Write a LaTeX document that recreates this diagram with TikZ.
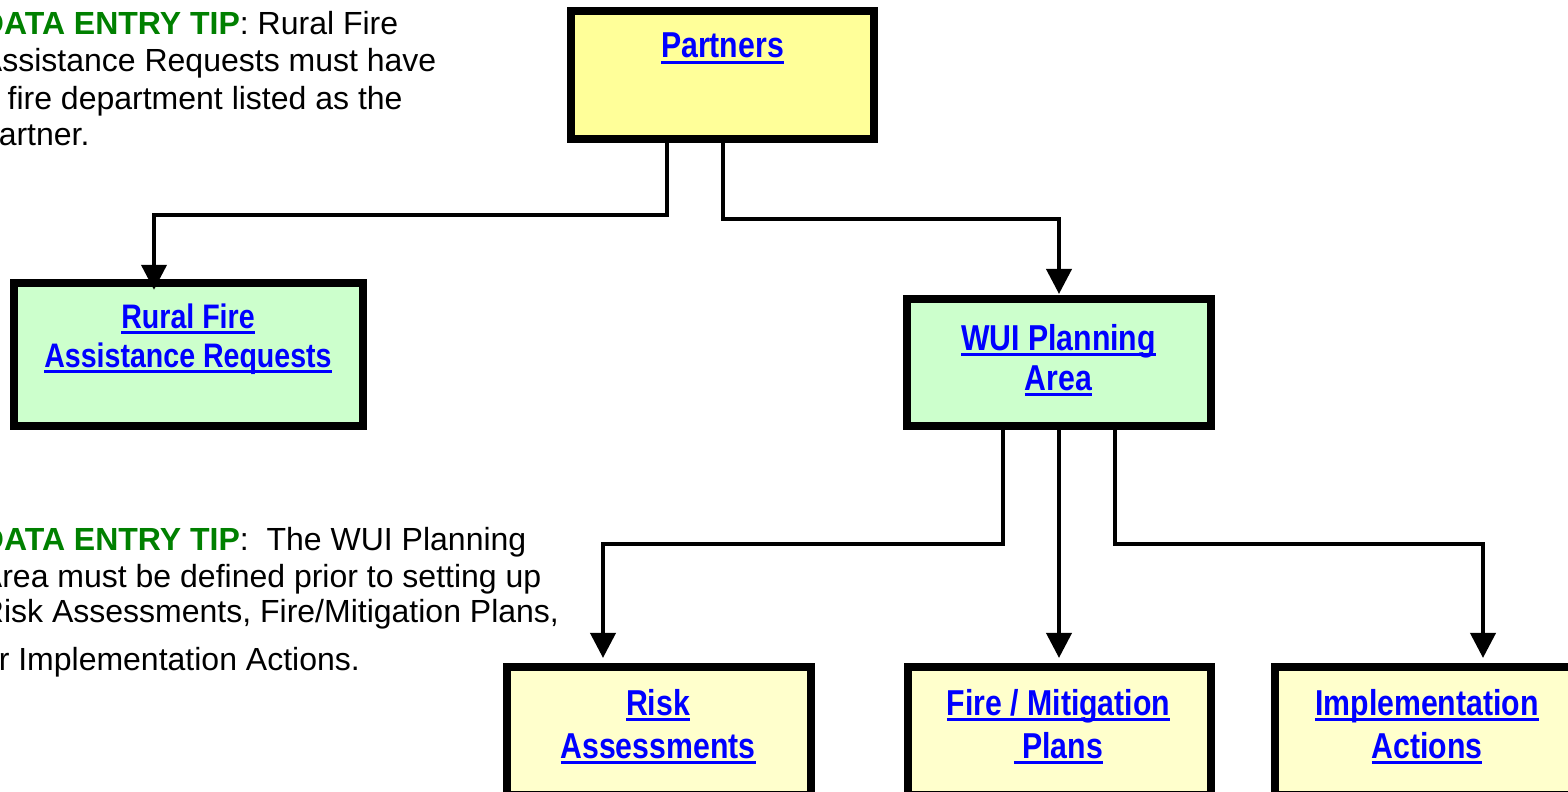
\documentclass[tikz,border=0pt]{standalone}
\usepackage{fontspec}
\setmainfont{Liberation Sans}
\newfontfamily\boxfont[FakeStretch=0.84]{Liberation Sans}
\usetikzlibrary{arrows.meta}
\definecolor{tipgreen}{HTML}{008000}
\definecolor{linkblue}{HTML}{0000FF}
\definecolor{partfill}{HTML}{FFFF99}
\definecolor{greenfill}{HTML}{CCFFCC}
\definecolor{lightfill}{HTML}{FFFFCC}
\newcommand\myul[1]{\setbox0\hbox{#1}\rlap{\color{linkblue}\rule[-4.3pt]{\wd0}{2.4pt}}\box0}
\tikzset{
  box/.style={draw=black, line width=6pt, outer sep=0pt, inner sep=0pt, rectangle},
  boxtext/.style={anchor=base, inner sep=0pt, outer sep=0pt, text=linkblue,
    font=\boxfont\bfseries\fontsize{27}{30}\selectfont},
  smallboxtext/.style={boxtext, font=\boxfont\bfseries\fontsize{25.5}{30}\selectfont},
  tiptext/.style={anchor=base west, inner sep=0pt, outer sep=0pt,
    font=\fontsize{24}{28}\selectfont},
  conn/.style={draw=black, line width=3pt, line join=miter},
  arr/.style={conn, -{Triangle[length=18.75pt, width=18.75pt]}},
}
\newcommand\tip{\textcolor{tipgreen}{\bfseries DATA ENTRY TIP}}
\begin{document}
\begin{tikzpicture}[x=0.75pt, y=-0.75pt]
\useasboundingbox (0,0) rectangle (1568,792);
\clip (0,0) rectangle (1568,792);

% boxes
\node[box, fill=partfill, minimum width=303*0.75pt, minimum height=128*0.75pt] (partners) at (722.5,75) {};
\node[box, fill=greenfill, minimum width=349*0.75pt, minimum height=143.5*0.75pt] (rural) at (188.5,354.25) {};
\node[box, fill=greenfill, minimum width=304*0.75pt, minimum height=127.5*0.75pt] (wui) at (1059,362.25) {};
\node[box, fill=lightfill, minimum width=304*0.75pt, minimum height=128*0.75pt] (risk) at (659,731) {};
\node[box, fill=lightfill, minimum width=303*0.75pt, minimum height=128*0.75pt] (fire) at (1059.5,731) {};
\node[box, fill=lightfill, minimum width=305*0.75pt, minimum height=128*0.75pt] (impl) at (1427.5,731) {};

% box texts
\node[boxtext] (partnersT) at (722.5,58) {\myul{Partners}};
\node[smallboxtext] (ruralT1) at (188,328) {\myul{Rural Fire}};
\node[smallboxtext] (ruralT2) at (188,367) {\myul{Assistance Requests}};
\node[boxtext] (wuiT1) at (1058.5,350) {\myul{WUI Planning}};
\node[boxtext] (wuiT2) at (1058.5,390) {\myul{Area}};
\node[boxtext] (riskT1) at (658,715) {\myul{Risk}};
\node[boxtext] (riskT2) at (658,758) {\myul{Assessments}};
\node[boxtext] (fireT1) at (1058.5,715) {\myul{Fire / Mitigation}};
\node[boxtext] (fireT2) at (1058.5,758) {\myul{\ Plans}};
\node[boxtext] (implT1) at (1427,715) {\myul{Implementation}};
\node[boxtext] (implT2) at (1427,758) {\myul{Actions}};

% tips
\node[tiptext] (tipA1) at (-19,35) {\tip: Rural Fire};
\node[tiptext] (tipA2) at (-19,72) {Assistance Requests must have};
\node[tiptext] (tipA3) at (-19,109) {a fire department listed as the};
\node[tiptext] (tipA4) at (-19,146) {partner.};
\node[tiptext] (tipB1) at (-19,550) {\tip:\ \ The WUI Planning};
\node[tiptext] (tipB2) at (-19,587) {Area must be defined prior to setting up};
\node[tiptext] (tipB3) at (-19,622) {Risk Assessments, Fire/Mitigation Plans,};
\node[tiptext] (tipB4) at (-19,670) {or Implementation Actions.};

% bend points
\coordinate (a1) at (667,214.5);
\coordinate (a2) at (154,214.5);
\coordinate (c1) at (723,218.5);
\coordinate (c2) at (1059,218.5);
\coordinate (d1) at (1003,543.5);
\coordinate (d2) at (603,543.5);
\coordinate (e1) at (1115,543.5);
\coordinate (e2) at (1483,543.5);
\coordinate (m1) at (1059,430);

% connectors
\draw[arr, shorten >=-5.5pt] (partners.south -| a1) -- (a1) -- (a2) -- (rural.north -| a2);
\draw[arr, shorten >=3.4pt] (partners.south -| c1) -- (c1) -- (c2) -- (wui.north -| c2);
\draw[arr, shorten >=6.8pt] (wui.south -| d1) -- (d1) -- (d2) -- (risk.north -| d2);
\draw[arr, shorten >=6.8pt] (wui.south -| m1) -- (fire.north -| m1);
\draw[arr, shorten >=6.8pt] (wui.south -| e1) -- (e1) -- (e2) -- (impl.north -| e2);
\end{tikzpicture}
\end{document}
